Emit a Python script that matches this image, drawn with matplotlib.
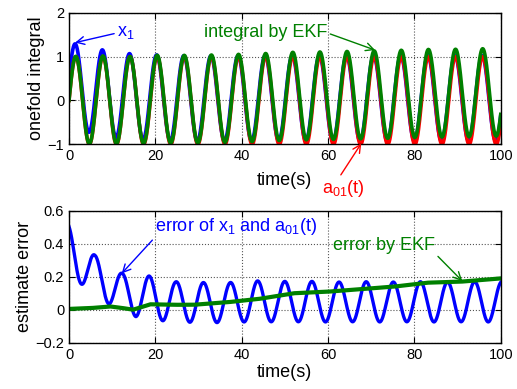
import numpy as np
import matplotlib
matplotlib.use('Agg')
import matplotlib.pyplot as plt

# time base of the simulation (s)
T_END = 100.0
N_SAMPLES = 4001

# envelope of "error of x1 and a01(t)" read from the peaks / troughs
PEAK_T = [0, 6.0, 12.3, 18.5, 24.7, 31.0, 37.2, 43.5, 49.8, 56.1, 62.4, 68.7, 75.0, 81.3, 87.5, 93.8, 100]
PEAK_V = [0.51, 0.33, 0.22, 0.205, 0.17, 0.165, 0.165, 0.175, 0.172, 0.172, 0.168, 0.17, 0.168, 0.17, 0.168, 0.17, 0.17]
TROUGH_T = [0, 2.9, 9.2, 15.5, 21.8, 28.1, 34.4, 40.6, 46.9, 53.2, 59.5, 65.8, 72.1, 78.4, 84.7, 90.9, 97.2, 100]
TROUGH_V = [0.2, 0.155, 0.035, -0.042, -0.067, -0.076, -0.078, -0.074, -0.073, -0.073, -0.074, -0.073, -0.074, -0.073, -0.074, -0.073, -0.074, -0.074]
ERR_PHASE = 0.28

# "error by EKF"
EKF_T = [0, 5, 9.5, 12, 14.8, 18.8, 24, 28.8, 36.5, 42, 44.3, 52, 59.7, 67.4, 75.2, 82.9, 90.6, 98.3, 100]
EKF_V = [0.005, 0.01, 0.02, 0.012, 0.0, 0.033, 0.03, 0.03, 0.045, 0.06, 0.067, 0.1, 0.109, 0.125, 0.14, 0.164, 0.17, 0.186, 0.19]

BLUE = '#0000ff'
RED = '#ff0000'
GREEN = '#008000'
FONT = 'Liberation Sans'

plt.rcParams['mathtext.fontset'] = 'custom'
plt.rcParams['mathtext.rm'] = FONT
plt.rcParams['mathtext.it'] = FONT
plt.rcParams['mathtext.default'] = 'rm'


def build_series():
    """a01(t), x1 and the EKF estimate, from the envelopes read off the figure"""
    t = np.linspace(0, T_END, N_SAMPLES)
    a01 = np.sin(t)
    upper = np.interp(t, PEAK_T, PEAK_V)
    lower = np.interp(t, TROUGH_T, TROUGH_V)
    err_x1 = (upper + lower) / 2 + (upper - lower) / 2 * np.cos(t + ERR_PHASE)
    err_ekf = np.interp(t, EKF_T, EKF_V)
    return t, a01, a01 + err_x1, a01 + err_ekf, err_x1, err_ekf


def style_axes(ax):
    ax.tick_params(direction='in', top=True, right=True, labelsize=10.5, length=4, width=0.8)
    ax.grid(True, linestyle=':', color='#555555', linewidth=0.8)
    for sp in ax.spines.values():
        sp.set_linewidth(1.0)
    for lab in ax.get_xticklabels() + ax.get_yticklabels():
        lab.set_family(FONT)


def arrow(ax, txt, xy, xytext, color, relpos, **kw):
    ax.annotate(txt, xy=xy, xytext=xytext, color=color, fontsize=13, family=FONT,
                va='center', ha='left', annotation_clip=False,
                arrowprops=dict(arrowstyle='->', color=color, lw=1.0, relpos=relpos,
                                shrinkA=0, shrinkB=0, mutation_scale=14), **kw)


if __name__ == '__main__':
    t, a01, x1, ekf, err_x1, err_ekf = build_series()

    fig = plt.figure(figsize=(5.17, 3.89), dpi=100)
    ax1 = fig.add_axes([0.1335, 0.629, 0.835, 0.338])
    ax2 = fig.add_axes([0.1335, 0.119, 0.835, 0.339])

    ax1.plot(t, x1, color=BLUE, lw=2.6)
    ax1.plot(t, a01, color=RED, lw=2.6)
    ax1.plot(t, ekf, color=GREEN, lw=2.6)
    ax1.set_xlim(0, 100)
    ax1.set_ylim(-1, 2)
    ax1.set_xticks(np.arange(0, 101, 20))
    ax1.set_yticks([-1, 0, 1, 2])
    ax1.set_yticklabels(['\u22121', '0', '1', '2'])
    ax1.set_xlabel('time(s)', fontsize=13, family=FONT, labelpad=6)
    ax1.set_ylabel('onefold integral', fontsize=13, family=FONT, labelpad=2)
    style_axes(ax1)
    arrow(ax1, 'x$_1$', (1.4, 1.32), (11.1, 1.54), BLUE, (0, 0.5))
    arrow(ax1, 'integral by EKF', (70.9, 1.15), (31.3, 1.54), GREEN, (1, 0.5))
    arrow(ax1, 'a$_{01}$(t)', (67.7, -0.98), (58.6, -2.0), RED, (0.4, 1))

    ax2.plot(t, err_x1, color=BLUE, lw=2.4)
    ax2.plot(t, err_ekf, color=GREEN, lw=3.0)
    ax2.set_xlim(0, 100)
    ax2.set_ylim(-0.2, 0.6)
    ax2.set_xticks(np.arange(0, 101, 20))
    ax2.set_yticks([-0.2, 0, 0.2, 0.4, 0.6])
    ax2.set_yticklabels(['\u22120.2', '0', '0.2', '0.4', '0.6'])
    ax2.set_xlabel('time(s)', fontsize=13, family=FONT, labelpad=2)
    ax2.set_ylabel('estimate error', fontsize=13, family=FONT, labelpad=2)
    style_axes(ax2)
    arrow(ax2, 'error of x$_1$ and a$_{01}$(t)', (12.2, 0.22), (19.9, 0.503), BLUE, (0, 0))
    arrow(ax2, 'error by EKF', (91.1, 0.174), (61.2, 0.392), GREEN, (1, 0))

    fig.savefig('out.png', dpi=100)
